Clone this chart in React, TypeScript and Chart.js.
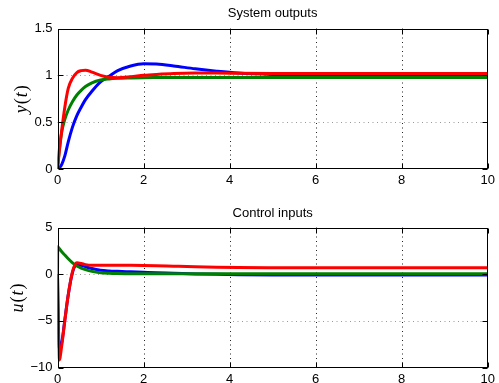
import React, { useEffect, useRef } from "react";
import { Chart, registerables } from "chart.js";

Chart.register(...registerables);

// ---- data ----
const time = [0, 0.005, 0.04, 0.1, 0.17, 0.25, 0.35, 0.45, 0.55, 0.65, 0.8, 1.0, 1.2, 1.4, 1.7, 2.0, 2.3, 2.7, 3.2, 3.7, 4.2, 5, 6, 7, 8, 9, 10];

const yBlue = [0, 0, 0.01, 0.05, 0.14, 0.29, 0.45, 0.57, 0.66, 0.74, 0.83, 0.93, 0.99, 1.05, 1.1, 1.125, 1.12, 1.1, 1.07, 1.045, 1.025, 1.01, 1.003, 1.0, 1.0, 1.0, 1.0];
const yGreen = [0, 0.02, 0.2, 0.4, 0.53, 0.63, 0.72, 0.79, 0.84, 0.88, 0.92, 0.95, 0.962, 0.968, 0.972, 0.975, 0.976, 0.977, 0.977, 0.977, 0.977, 0.977, 0.977, 0.977, 0.977, 0.977, 0.977];
const yRed = [0, 0.02, 0.18, 0.42, 0.66, 0.86, 0.97, 1.03, 1.05, 1.055, 1.035, 1.0, 0.98, 0.975, 0.985, 1.0, 1.01, 1.02, 1.025, 1.025, 1.022, 1.02, 1.02, 1.02, 1.02, 1.02, 1.02];

const uBlue = [0, -1.5, -8.0, -7.3, -4.9, -2.2, 0.2, 1.0, 0.95, 0.8, 0.6, 0.42, 0.34, 0.3, 0.25, 0.2, 0.15, 0.1, 0.03, -0.02, -0.05, -0.08, -0.1, -0.1, -0.1, -0.1, -0.1];
const uGreen = [0, 2.95, 2.75, 2.4, 2.05, 1.65, 1.2, 0.88, 0.65, 0.48, 0.3, 0.16, 0.1, 0.07, 0.05, 0.05, 0.05, 0.05, 0.05, 0.05, 0.05, 0.05, 0.05, 0.05, 0.05, 0.05, 0.05];
const uRed = [0, -2, -9.2, -7.6, -5.0, -2.2, 0.3, 1.22, 1.15, 1.02, 0.95, 0.95, 0.96, 0.96, 0.95, 0.93, 0.9, 0.85, 0.79, 0.74, 0.71, 0.69, 0.68, 0.68, 0.68, 0.68, 0.68];

const xTicks = [0, 2, 4, 6, 8, 10];
const xTickLabels = ["0", "2", "4", "6", "8", "10"];
const yTicksTop = [0, 0.5, 1, 1.5];
const yTickLabelsTop = ["0", "0.5", "1", "1.5"];
const yTicksBottom = [-10, -5, 0, 5];
const yTickLabelsBottom = ["\u221210", "\u22125", "0", "5"];

const titles = ["System outputs", "Control inputs"];
const yLabels = [["y", "t"], ["u", "t"]];

const BLUE = "#0000ff";
const GREEN = "#008000";
const RED = "#ff0000";
const TICK_FONT = "Liberation Sans, Arial, sans-serif";

type PanelCfg = {
  height: number;
  padTop: number;
  axisHeight: number;
  yMin: number;
  yMax: number;
  yTicks: number[];
  yTickLabels: string[];
  series: number[][];
  title: string;
  titleY: number;
  ylabel: string[];
  ylabelX: number;
};

function makePlugin(cfg: PanelCfg) {
  return {
    id: "matlabAxes",
    beforeDatasetsDraw(chart: any) {
      const { ctx, chartArea } = chart;
      const xs = chart.scales.x;
      const ys = chart.scales.y;
      ctx.save();
      ctx.lineWidth = 1;
      ctx.setLineDash([1, 3.5]);
      xTicks.forEach((v) => {
        if (v === xTicks[0] || v === xTicks[xTicks.length - 1]) return;
        const px = Math.round(xs.getPixelForValue(v)) + 0.5;
        ctx.strokeStyle = "#222";
        ctx.beginPath();
        ctx.moveTo(px, chartArea.top);
        ctx.lineTo(px, chartArea.bottom);
        ctx.stroke();
      });
      cfg.yTicks.forEach((v) => {
        if (v === cfg.yTicks[0] || v === cfg.yTicks[cfg.yTicks.length - 1]) return;
        const py = Math.round(ys.getPixelForValue(v)) + 0.5;
        ctx.strokeStyle = "#999";
        ctx.beginPath();
        ctx.moveTo(chartArea.left, py);
        ctx.lineTo(chartArea.right, py);
        ctx.stroke();
      });
      ctx.restore();
    },
    afterDatasetsDraw(chart: any) {
      const { ctx, chartArea } = chart;
      const xs = chart.scales.x;
      const ys = chart.scales.y;
      const l = Math.round(chartArea.left) + 0.5;
      const r = Math.round(chartArea.right) - 0.5;
      const t = Math.round(chartArea.top) + 0.5;
      const b = Math.round(chartArea.bottom) - 0.5;
      ctx.save();
      ctx.strokeStyle = "#000";
      ctx.lineWidth = 1;
      ctx.setLineDash([]);
      ctx.strokeRect(l, t, r - l, b - t);
      const tl = 5;
      ctx.beginPath();
      xTicks.forEach((v) => {
        const px = Math.round(xs.getPixelForValue(v)) + 0.5;
        ctx.moveTo(px, b);
        ctx.lineTo(px, b - tl);
        ctx.moveTo(px, t);
        ctx.lineTo(px, t + tl);
      });
      cfg.yTicks.forEach((v) => {
        const py = Math.round(ys.getPixelForValue(v)) + 0.5;
        ctx.moveTo(l, py);
        ctx.lineTo(l + tl, py);
        ctx.moveTo(r, py);
        ctx.lineTo(r - tl, py);
      });
      ctx.stroke();
      ctx.restore();
    },
    afterDraw(chart: any) {
      const { ctx, chartArea } = chart;
      ctx.save();
      ctx.fillStyle = "#000";
      ctx.font = `13px ${TICK_FONT}`;
      ctx.textAlign = "center";
      ctx.textBaseline = "middle";
      ctx.fillText(cfg.title, (chartArea.left + chartArea.right) / 2, cfg.titleY);
      // y label, LaTeX-like
      const cy = (chartArea.top + chartArea.bottom) / 2;
      ctx.translate(cfg.ylabelX, cy);
      ctx.rotate(-Math.PI / 2);
      const it = "italic 18px Liberation Serif, Times New Roman, serif";
      const up = "18px Liberation Serif, Times New Roman, serif";
      const parts: [string, string][] = [
        [cfg.ylabel[0], it],
        ["(", up],
        [cfg.ylabel[1], it],
        [")", up],
      ];
      let total = 0;
      const widths = parts.map(([s, f]) => {
        ctx.font = f;
        const w = ctx.measureText(s).width + 1;
        total += w;
        return w;
      });
      let x = -total / 2;
      ctx.textAlign = "left";
      parts.forEach(([s, f], i) => {
        ctx.font = f;
        ctx.fillText(s, x, 0);
        x += widths[i];
      });
      ctx.restore();
    },
  };
}

function Panel({ cfg }: { cfg: PanelCfg }) {
  const ref = useRef<HTMLCanvasElement | null>(null);
  useEffect(() => {
    if (!ref.current) return;
    const colors = [BLUE, GREEN, RED];
    const orders = [2, 1, 0];
    const chart = new Chart(ref.current, {
      type: "line",
      data: {
        datasets: cfg.series.map((s, i) => ({
          data: time.map((t, k) => ({ x: t, y: s[k] })),
          borderColor: colors[i],
          borderWidth: 3,
          pointRadius: 0,
          fill: false,
          cubicInterpolationMode: "monotone" as const,
          order: orders[i],
        })),
      },
      options: {
        animation: false,
        responsive: false,
        devicePixelRatio: 1,
        events: [],
        layout: { padding: { top: cfg.padTop, right: 7.5, left: 0, bottom: 0 } },
        plugins: {
          legend: { display: false },
          tooltip: { enabled: false },
          title: { display: false },
        },
        scales: {
          x: {
            type: "linear",
            min: 0,
            max: 10,
            grid: { display: false, drawTicks: false },
            border: { display: false },
            afterBuildTicks: (scale: any) => {
              scale.ticks = xTicks.map((v) => ({ value: v }));
            },
            afterFit: (scale: any) => {
              scale.height = cfg.axisHeight;
            },
            ticks: {
              padding: 4,
              color: "#000",
              maxRotation: 0,
              autoSkip: false,
              font: { family: TICK_FONT, size: 13 },
              callback: (v: any) => {
                const i = xTicks.indexOf(Number(v));
                return i >= 0 ? xTickLabels[i] : "";
              },
            },
          },
          y: {
            type: "linear",
            min: cfg.yMin,
            max: cfg.yMax,
            grid: { display: false, drawTicks: false },
            border: { display: false },
            afterBuildTicks: (scale: any) => {
              scale.ticks = cfg.yTicks.map((v) => ({ value: v }));
            },
            afterFit: (scale: any) => {
              scale.width = 57.5;
            },
            ticks: {
              padding: 5,
              color: "#000",
              autoSkip: false,
              font: { family: TICK_FONT, size: 13 },
              callback: (v: any) => {
                const i = cfg.yTicks.indexOf(Number(v));
                return i >= 0 ? cfg.yTickLabels[i] : "";
              },
            },
          },
        },
      },
      plugins: [makePlugin(cfg)],
    } as any);
    return () => chart.destroy();
  }, [cfg]);
  return (
    <canvas
      ref={ref}
      width={499}
      height={cfg.height}
      style={{ display: "block", width: 499, height: cfg.height }}
    />
  );
}

const topCfg: PanelCfg = {
  height: 190,
  padTop: 28.5,
  axisHeight: 21,
  yMin: 0,
  yMax: 1.5,
  yTicks: yTicksTop,
  yTickLabels: yTickLabelsTop,
  series: [yBlue, yGreen, yRed],
  title: titles[0],
  titleY: 13,
  ylabel: yLabels[0],
  ylabelX: 22.5,
};

const bottomCfg: PanelCfg = {
  height: 193,
  padTop: 37.5,
  axisHeight: 15.5,
  yMin: -10,
  yMax: 5,
  yTicks: yTicksBottom,
  yTickLabels: yTickLabelsBottom,
  series: [uBlue, uGreen, uRed],
  title: titles[1],
  titleY: 23,
  ylabel: yLabels[1],
  ylabelX: 18.5,
};

export default function App() {
  return (
    <div
      style={{
        position: "absolute",
        left: 0,
        top: 0,
        width: 499,
        height: 383,
        background: "#fff",
        overflow: "hidden",
      }}
    >
      <Panel cfg={topCfg} />
      <Panel cfg={bottomCfg} />
    </div>
  );
}
